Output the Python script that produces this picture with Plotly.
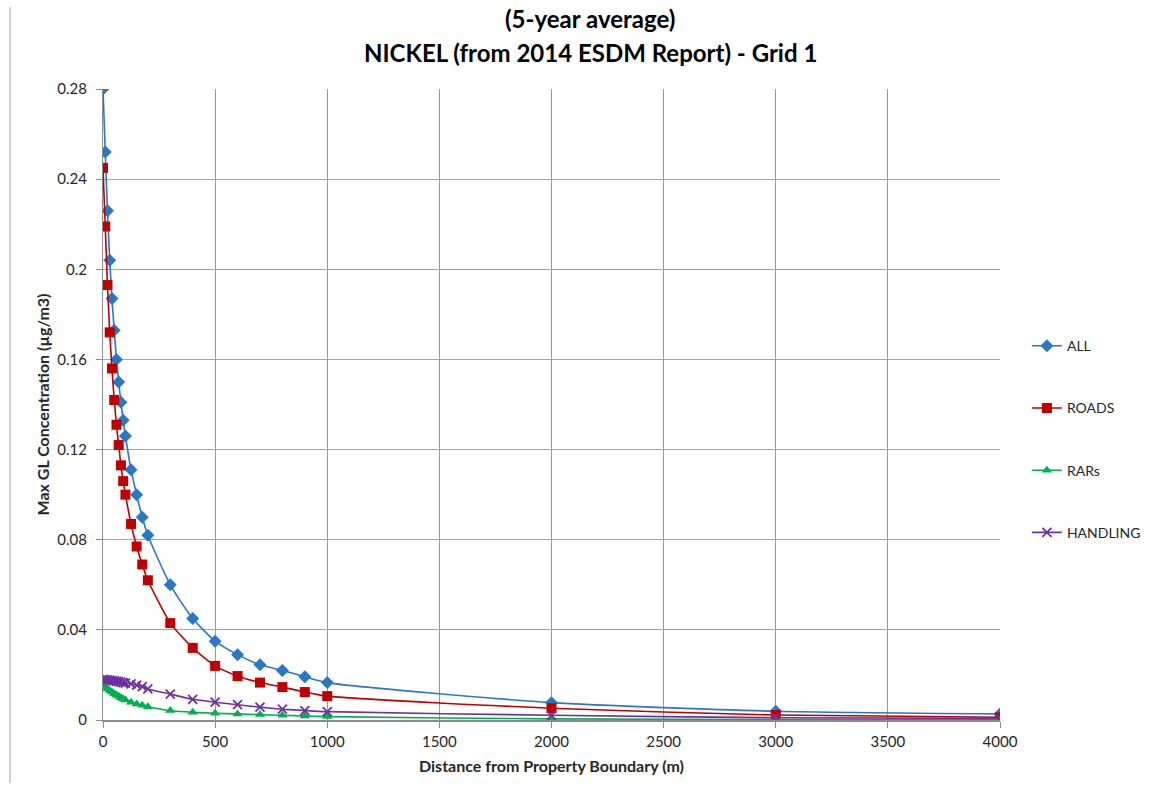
import plotly.graph_objects as go

# Distance from property boundary (m)
distance = [0, 10, 20, 30, 40, 50, 60, 70, 80, 90, 100, 125, 150, 175, 200,
            300, 400, 500, 600, 700, 800, 900, 1000, 2000, 3000, 4000]

# Max ground-level nickel concentration (ug/m3) by source group
all_sources = [0.280, 0.252, 0.226, 0.204, 0.187, 0.173, 0.160, 0.150, 0.141, 0.133,
               0.126, 0.111, 0.100, 0.090, 0.082, 0.060, 0.045, 0.035, 0.029, 0.0245,
               0.022, 0.0192, 0.0166, 0.0077, 0.0039, 0.0027]
roads = [0.245, 0.219, 0.193, 0.172, 0.156, 0.142, 0.131, 0.122, 0.113, 0.106,
         0.100, 0.087, 0.077, 0.069, 0.062, 0.043, 0.032, 0.024, 0.0195, 0.0166,
         0.0146, 0.0124, 0.0106, 0.0052, 0.0022, 0.0012]
rars = [0.0152, 0.0145, 0.0138, 0.0131, 0.0124, 0.0117, 0.0111, 0.0105, 0.0099, 0.0094,
        0.0089, 0.0079, 0.0071, 0.0065, 0.0059, 0.0042, 0.0034, 0.0030, 0.0027, 0.0024,
        0.0021, 0.0018, 0.0015, 0.0005, 0.0002, 0.0001]
handling = [0.0180, 0.0179, 0.0178, 0.0177, 0.0175, 0.0174, 0.0172, 0.0170, 0.0168, 0.0166,
            0.0164, 0.0160, 0.0155, 0.0148, 0.0138, 0.0115, 0.0092, 0.0079, 0.0068, 0.0057,
            0.0048, 0.0042, 0.0037, 0.0021, 0.0010, 0.0007]

y_ticks = [0, 0.04, 0.08, 0.12, 0.16, 0.2, 0.24, 0.28]
y_ticktext = ["0", "0.04", "0.08", "0.12", "0.16", "0.2", "0.24", "0.28"]
x_ticks = [0, 500, 1000, 1500, 2000, 2500, 3000, 3500, 4000]

title_lines = ["(5-year average)", "NICKEL (from 2014 ESDM Report) - Grid 1"]

series = [
    ("ALL", all_sources, "#2878C8", "diamond", 10),
    ("ROADS", roads, "#C00000", "square", 10),
    ("RARs", rars, "#00B050", "triangle-up", 9),
    ("HANDLING", handling, "#7030A0", "x-thin", 9),
]

FONT = "Lato, Carlito, 'Open Sans', sans-serif"
TEXT = "#262626"

fig = go.Figure()
for i, (name, vals, color, symbol, size) in enumerate(series):
    marker = dict(symbol=symbol, size=size, color=color,
                  line=dict(color=color, width=1.8 if symbol == "x-thin" else 0))
    fig.add_trace(go.Scatter(
        x=distance, y=vals, name=name, mode="lines+markers",
        line=dict(color=color, width=1.6, shape="spline", smoothing=0.6),
        marker=marker, legendgroup=f"g{i}",
    ))

fig.update_layout(
    width=1166, height=795,
    margin=dict(l=103, r=166, t=89, b=75),
    paper_bgcolor="white", plot_bgcolor="white",
    font=dict(family=FONT, size=15, color=TEXT),
    legend=dict(
        x=1.03, xanchor="left", y=0.445, yanchor="middle",
        traceorder="grouped", tracegroupgap=41,
        font=dict(family=FONT, size=14, color=TEXT),
        bgcolor="rgba(0,0,0,0)",
    ),
    showlegend=True,
)

# two-line bold title centred over the chart area
for line, ypos, in zip(title_lines, [1.1125, 1.0586]):
    fig.add_annotation(text=f"<b>{line}</b>", xref="paper", yref="paper",
                       x=0.543, y=ypos, xanchor="center", yanchor="middle",
                       showarrow=False,
                       font=dict(family=FONT, size=24, color="#000000"))

fig.update_xaxes(
    range=[0, 4000], tickvals=x_ticks,
    showgrid=True, gridcolor="#9a9a9a", gridwidth=1,
    showline=True, linecolor="#8c8c8c", linewidth=2,
    ticks="outside", ticklen=6, tickcolor="#8c8c8c",
    ticklabelstandoff=1,
    zeroline=False,
    title=dict(text="<b>Distance from Property Boundary (m)</b>",
               font=dict(family=FONT, size=16, color=TEXT), standoff=12),
)
fig.update_yaxes(
    range=[0, 0.28], tickvals=y_ticks, ticktext=y_ticktext,
    showgrid=True, gridcolor="#a6a6a6", gridwidth=1,
    showline=True, linecolor="#8c8c8c", linewidth=1,
    ticks="outside", ticklen=6, tickcolor="#8c8c8c",
    ticklabelstandoff=6,
    zeroline=False,
    title=dict(text="<b>Max GL Concentration (µg/m3)</b>",
               font=dict(family=FONT, size=16, color=TEXT), standoff=3),
)

# chart area border on the left edge
fig.add_shape(type="line", xref="paper", yref="paper",
              x0=-0.1037, x1=-0.1037, y0=-0.1, y1=1.13,
              line=dict(color="#a6a6a6", width=1))

fig.write_html("out.html")
